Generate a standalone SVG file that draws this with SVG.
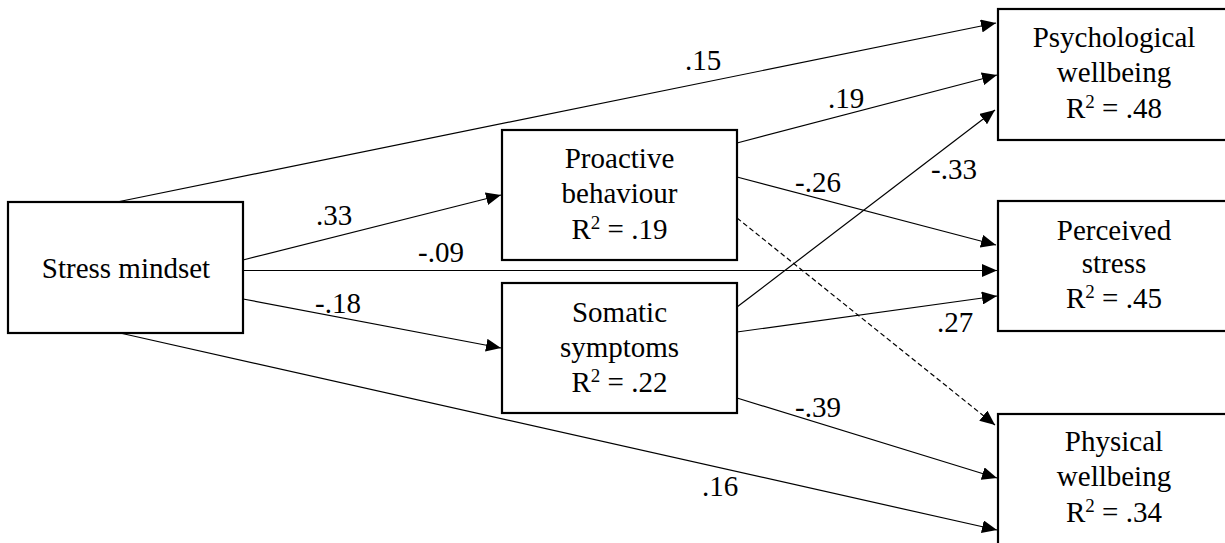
<svg xmlns="http://www.w3.org/2000/svg" width="1225" height="543" viewBox="0 0 1225 543">
<style>
.box{fill:#fff;stroke:#000;stroke-width:2.2}
.t{font-family:'Liberation Serif','Times New Roman',serif;font-size:29px;fill:#000}
.c{text-anchor:middle}
.ln{stroke:#000;stroke-width:1.2;fill:none}
.dash{stroke-dasharray:5,3}
</style>
<defs>
<marker id="ah" markerUnits="userSpaceOnUse" markerWidth="16" markerHeight="13" refX="15" refY="6.5" orient="auto">
<path d="M0,0 L15,6.5 L0,13 z" fill="#000"/>
</marker>
</defs>
<rect width="1225" height="543" fill="#fff"/>
<g id="connectors">
<line class="ln" x1="117" y1="202" x2="996" y2="23" marker-end="url(#ah)"/>
<line class="ln" x1="243" y1="260" x2="501" y2="195" marker-end="url(#ah)"/>
<line class="ln" x1="243" y1="270.5" x2="997" y2="270.5" marker-end="url(#ah)"/>
<line class="ln" x1="243" y1="299" x2="501" y2="348" marker-end="url(#ah)"/>
<line class="ln" x1="120" y1="333" x2="997" y2="530" marker-end="url(#ah)"/>
<line class="ln" x1="737" y1="143" x2="997" y2="75" marker-end="url(#ah)"/>
<line class="ln" x1="737" y1="177" x2="996" y2="245" marker-end="url(#ah)"/>
<line class="ln dash" x1="737" y1="218" x2="995" y2="425" marker-end="url(#ah)"/>
<line class="ln" x1="737" y1="307" x2="995" y2="110" marker-end="url(#ah)"/>
<line class="ln" x1="737" y1="332" x2="997" y2="296" marker-end="url(#ah)"/>
<line class="ln" x1="737" y1="398" x2="997" y2="478" marker-end="url(#ah)"/>
<text class="t" x="685" y="70">.15</text>
<text class="t" x="316" y="225">.33</text>
<text class="t" x="418" y="262">-.09</text>
<text class="t" x="315" y="313">-.18</text>
<text class="t" x="702" y="496">.16</text>
<text class="t" x="828" y="108">.19</text>
<text class="t" x="795" y="192">-.26</text>
<text class="t" x="931" y="179">-.33</text>
<text class="t" x="937" y="332">.27</text>
<text class="t" x="795" y="417">-.39</text>
</g>
<g id="stress-mindset">
<rect class="box" x="8" y="202" width="235" height="131"/>
<text class="t c" x="126" y="278">Stress mindset</text>
</g>
<g id="proactive-behaviour">
<rect class="box" x="502" y="130" width="235" height="130"/>
<text class="t c" x="619.5" y="168">Proactive</text>
<text class="t c" x="619.5" y="203">behaviour</text>
<text class="t c" x="619.5" y="239">R<tspan font-size="19" dy="-10">2</tspan><tspan dy="10"> = .19</tspan></text>
</g>
<g id="somatic-symptoms">
<rect class="box" x="502" y="283" width="235" height="130"/>
<text class="t c" x="619.5" y="322">Somatic</text>
<text class="t c" x="619.5" y="357">symptoms</text>
<text class="t c" x="619.5" y="392">R<tspan font-size="19" dy="-10">2</tspan><tspan dy="10"> = .22</tspan></text>
</g>
<g id="psychological-wellbeing">
<rect class="box" x="998" y="9" width="232" height="131"/>
<text class="t c" x="1114" y="47">Psychological</text>
<text class="t c" x="1114" y="82">wellbeing</text>
<text class="t c" x="1114" y="118">R<tspan font-size="19" dy="-10">2</tspan><tspan dy="10"> = .48</tspan></text>
</g>
<g id="perceived-stress">
<rect class="box" x="998" y="201" width="232" height="130"/>
<text class="t c" x="1114" y="240">Perceived</text>
<text class="t c" x="1114" y="273">stress</text>
<text class="t c" x="1114" y="308">R<tspan font-size="19" dy="-10">2</tspan><tspan dy="10"> = .45</tspan></text>
</g>
<g id="physical-wellbeing">
<rect class="box" x="998" y="414" width="232" height="140"/>
<text class="t c" x="1114" y="451">Physical</text>
<text class="t c" x="1114" y="486">wellbeing</text>
<text class="t c" x="1114" y="522">R<tspan font-size="19" dy="-10">2</tspan><tspan dy="10"> = .34</tspan></text>
</g>
</svg>
